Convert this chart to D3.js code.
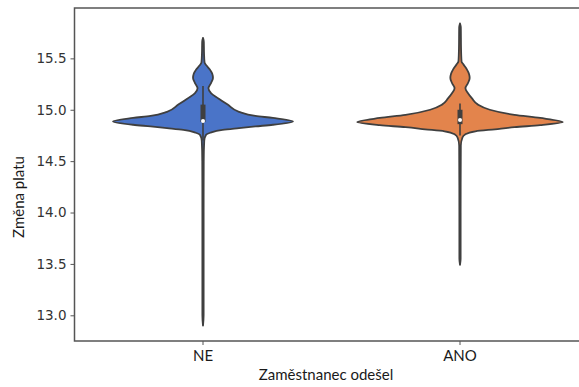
<!DOCTYPE html>
<html lang="en">
<head>
    <meta charset="utf-8">
    <title>Změna platu</title>
    <script src="https://d3js.org/d3.v7.min.js"></script>
    <style>
        body {
            margin: 0;
            background: #fff;
        }

        .tick text.num {
            font-family: "DejaVu Sans", sans-serif;
            font-size: 13.5px;
            fill: #333;
        }

        .cat text {
            font-family: Lato, "Open Sans", sans-serif;
            font-size: 15px;
            fill: #1a1a1a;
        }

        .label {
            font-family: Lato, "Open Sans", sans-serif;
            font-size: 15px;
            fill: #1a1a1a;
        }
    </style>
</head>
<body>
<svg id="target" width="579" height="387"></svg>
<script>
    const width = 579;
    const height = 387;

    const categories = ["NE", "ANO"];
    const colors = ["#4a74c8", "#e3844c"];
    const yTicks = [13.0, 13.5, 14.0, 14.5, 15.0, 15.5];

    // density profile: value level and relative half width (1 = full violin width)
    const neLevels = [12.90, 13.00, 13.50, 14.00, 14.50, 14.70, 14.757, 14.776, 14.805, 14.822, 14.838, 14.854, 14.886,
        14.92, 14.94, 14.98, 15.05, 15.11, 15.16, 15.21, 15.26, 15.31, 15.35, 15.39, 15.43, 15.46, 15.55, 15.66, 15.70];
    const neDensity = [0, 0.006, 0.006, 0.006, 0.007, 0.012, 0.03, 0.07, 0.19, 0.35, 0.51, 0.68, 0.875,
        0.68, 0.51, 0.35, 0.24, 0.15, 0.08, 0.053, 0.078, 0.097, 0.09, 0.068, 0.034, 0.015, 0.01, 0.008, 0];

    const anoLevels = [13.49, 13.55, 14.00, 14.65, 14.73, 14.76, 14.79, 14.81, 14.83, 14.85, 14.88,
        14.92, 14.95, 15.00, 15.05, 15.11, 15.16, 15.21, 15.26, 15.31, 15.35, 15.39, 15.44, 15.47, 15.60, 15.80, 15.84];
    const anoDensity = [0, 0.006, 0.006, 0.008, 0.024, 0.05, 0.15, 0.34, 0.53, 0.78, 1.0,
        0.78, 0.53, 0.29, 0.175, 0.117, 0.078, 0.053, 0.078, 0.094, 0.087, 0.068, 0.034, 0.015, 0.01, 0.008, 0];

    // inner box: whisker low, q1, median, q3, whisker high
    const neBox = [14.70, 14.88, 14.89, 15.05, 15.23];
    const anoBox = [14.75, 14.86, 14.90, 15.00, 15.06];

    const violins = [
        {name: categories[0], levels: neLevels, density: neDensity, box: neBox, color: colors[0]},
        {name: categories[1], levels: anoLevels, density: anoDensity, box: anoBox, color: colors[1]}
    ];

    const margin = {left: 74.5, top: 8, bottom: 46};
    const svg = d3.select('#target');

    const x = d3.scaleBand()
        .domain(categories)
        .range([margin.left, margin.left + 2 * 257])
        .padding(0);

    const y = d3.scaleLinear()
        .domain([12.75, 15.99])
        .range([height - margin.bottom + 0.5 - 0.5, margin.top]);

    const maxHalf = x.bandwidth() * 0.4;

    const plot = svg.append('g');

    // violins
    violins.forEach(function (v) {
        const cx = x(v.name) + x.bandwidth() / 2;
        const pts = v.levels.map((l, i) => ({v: l, d: v.density[i]}));
        const area = d3.area()
            .y((d) => y(d.v))
            .x0((d) => cx - d.d * maxHalf)
            .x1((d) => cx + d.d * maxHalf)
            .curve(d3.curveMonotoneY);

        plot.append('path')
            .datum(pts)
            .attr('d', area)
            .attr('fill', v.color)
            .attr('stroke', '#3f3f3f')
            .attr('stroke-width', 1.8)
            .attr('stroke-linejoin', 'round');

        // whisker
        plot.append('line')
            .attr('x1', cx).attr('x2', cx)
            .attr('y1', y(v.box[0])).attr('y2', y(v.box[4]))
            .attr('stroke', '#3f3f3f')
            .attr('stroke-width', 1.6);

        // box
        plot.append('line')
            .attr('x1', cx).attr('x2', cx)
            .attr('y1', y(v.box[1])).attr('y2', y(v.box[3]))
            .attr('stroke', '#3f3f3f')
            .attr('stroke-width', 5);

        // median
        plot.append('circle')
            .attr('cx', cx)
            .attr('cy', y(v.box[2]))
            .attr('r', 2)
            .attr('fill', '#fff');
    });

    // y axis
    const yAxis = svg.append('g')
        .attr('transform', 'translate(' + margin.left + ',0)')
        .call(d3.axisLeft(y).tickValues(yTicks).tickFormat(d3.format('.1f')).tickSize(4).tickPadding(4));
    yAxis.selectAll('text').attr('class', 'num');

    // x axis
    const xAxis = svg.append('g')
        .attr('class', 'cat')
        .attr('transform', 'translate(0,' + y(12.75) + ')')
        .call(d3.axisBottom(x).tickSize(4).tickPadding(5));
    xAxis.selectAll('.domain').remove();
    xAxis.selectAll('text').attr('font-size', null).attr('font-family', null);

    svg.selectAll('.domain').remove();
    svg.selectAll('.tick line').attr('stroke', '#555').attr('stroke-width', 1);

    // frame
    svg.append('rect')
        .attr('x', margin.left)
        .attr('y', margin.top)
        .attr('width', 2 * 257)
        .attr('height', y(12.75) - margin.top)
        .attr('fill', 'none')
        .attr('stroke', '#555')
        .attr('stroke-width', 1.5);

    // axis labels
    svg.append('text')
        .attr('class', 'label')
        .attr('text-anchor', 'middle')
        .attr('transform', 'translate(24,197) rotate(-90)')
        .text('Změna platu');

    svg.append('text')
        .attr('class', 'label')
        .attr('text-anchor', 'middle')
        .attr('x', 326)
        .attr('y', 380)
        .text('Zaměstnanec odešel');
</script>
</body>
</html>
